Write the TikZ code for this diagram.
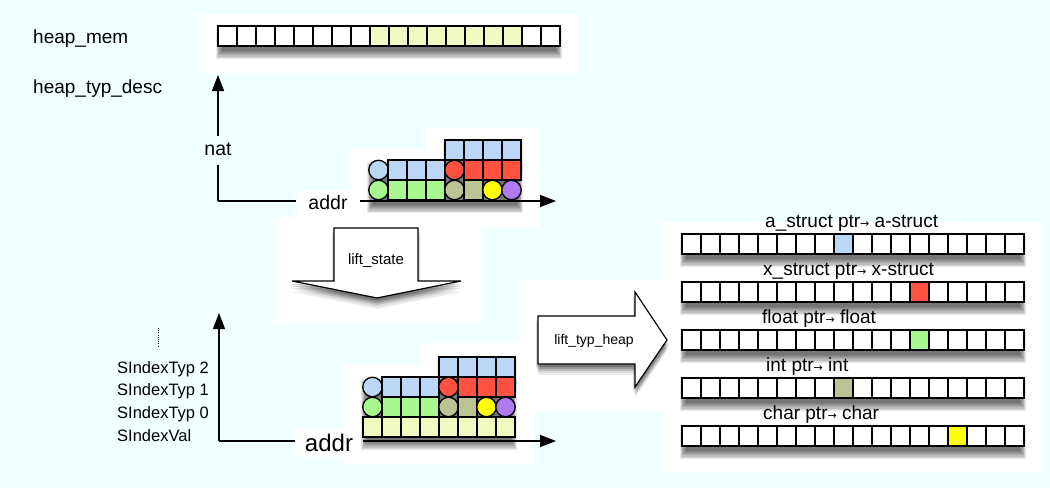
\documentclass[tikz,border=0pt]{standalone}
\usepackage{fontspec}
\setmainfont{Liberation Sans}
\newfontfamily\arrowfont{DejaVu Sans}
\usetikzlibrary{arrows.meta}
\definecolor{bg}{RGB}{240,255,255}
\definecolor{cyel}{RGB}{240,250,192}
\definecolor{cblue}{RGB}{187,215,245}
\definecolor{cred}{RGB}{255,82,64}
\definecolor{cgreen}{RGB}{168,248,144}
\definecolor{colive}{RGB}{188,196,150}
\definecolor{cyellow}{RGB}{255,255,0}
\definecolor{cpurple}{RGB}{176,122,240}
\newcommand\fs[1]{\fontsize{#1}{#1}\selectfont}
\newcommand\sarr{{\arrowfont\fontsize{11}{11}\selectfont →}}
\newcommand\softshadow[4]{%
  \foreach \d in {0,...,7}{%
    \fill[black,opacity=0.09] ({#1-2+\d*0.8},{#2+2+\d*0.8}) rectangle ({#3+2-\d*0.8},{#4+13-\d*1.2});
  }}
\newcommand\cellrow[6]{%
  \foreach \i in {0,...,17}{%
    \ifnum\i<#4 \def\cc{white}\else\ifnum\i>#5 \def\cc{white}\else\def\cc{#6}\fi\fi
    \node[cell,fill=\cc] (#1-\i) at ({#2+19*\i+9.5},{#3+10}) {};
  }}
\newcommand\stackblock[3]{%
  \foreach \c in {4,...,7} \node[cell,fill=cblue] (#1t\c) at ({#2+19*\c+9.5},{#3+10}) {};
  \node[ball,fill=cblue] (#1m0) at ({#2+9.5},{#3+30}) {};
  \foreach \c in {1,2,3} \node[cell,fill=cblue] (#1m\c) at ({#2+19*\c+9.5},{#3+30}) {};
  \node[ball,fill=cred] (#1m4) at ({#2+19*4+9.5},{#3+30}) {};
  \foreach \c in {5,6,7} \node[cell,fill=cred] (#1m\c) at ({#2+19*\c+9.5},{#3+30}) {};
  \node[ball,fill=cgreen] (#1b0) at ({#2+9.5},{#3+50}) {};
  \foreach \c in {1,2,3} \node[cell,fill=cgreen] (#1b\c) at ({#2+19*\c+9.5},{#3+50}) {};
  \node[ball,fill=colive] (#1b4) at ({#2+19*4+9.5},{#3+50}) {};
  \node[cell,fill=colive] (#1b5) at ({#2+19*5+9.5},{#3+50}) {};
  \node[ball,fill=cyellow] (#1b6) at ({#2+19*6+9.5},{#3+50}) {};
  \node[ball,fill=cpurple] (#1b7) at ({#2+19*7+9.5},{#3+50}) {};
}
\tikzset{
  cell/.style={draw, line width=1.3pt, minimum width=19pt, minimum height=20pt, inner sep=0pt, outer sep=0pt},
  ball/.style={draw, line width=1.3pt, circle, minimum size=19.5pt, inner sep=0pt},
  axisline/.style={line width=1.3pt},
  axarrow/.style={line width=1.3pt, -{Triangle[length=16pt,width=12pt]}},
  lbl/.style={inner sep=0pt, text=black},
  bigarrow/.style={draw, line width=1.2pt, fill=white, line join=miter},
}
\begin{document}
\begin{tikzpicture}[x=1pt,y=-1pt]
\useasboundingbox (0,0) rectangle (1050,488);
\fill[bg] (0,0) rectangle (1050,488);
% white panels
\fill[white] (200,14) rectangle (579,73);
\fill[white] (426,128) rectangle (539,149);
\fill[white] (350,149) rectangle (539,227);
\fill[white] (297,190) rectangle (362,217);
\fill[white] (273,217) rectangle (481,325);
\fill[white] (520,280) rectangle (662,413);
\fill[white] (662,222) rectangle (1042,472);
\fill[white] (420,343) rectangle (533,365);
\fill[white] (344,365) rectangle (533,464);
\fill[white] (295,428) rectangle (367,457);
% shadows
\softshadow{218}{26}{560}{46}
\softshadow{445}{140}{521}{160}
\softshadow{369}{160}{521}{200}
\softshadow{439}{357}{515}{377}
\softshadow{363}{377}{515}{437}
\foreach \ry in {234,282,330,378,426} {\softshadow{682}{\ry}{1024}{\ry+20}}
\foreach \dx/\dy in {-2/3,0/3,2/3,-2/5,0/5,2/5,-1/7,1/7,0/9,0/11} {
  \begin{scope}[shift={(\dx,\dy)}]
    \fill[black,opacity=0.07] (334,228) -- (418,228) -- (418,281) -- (461,281) -- (377,298) -- (292,281) -- (334,281) -- cycle;
    \fill[black,opacity=0.07] (538,316) -- (635,316) -- (635,292) -- (667,340) -- (635,387) -- (635,364) -- (538,364) -- cycle;
  \end{scope}
}
% top memory row
\cellrow{hm}{218}{26}{8}{15}{cyel}
% labels left
\node[lbl,font=\fs{19},anchor=base west] (hmem) at (33,43) {heap\_mem};
\node[lbl,font=\fs{19},anchor=base west] (htd) at (33,93) {heap\_typ\_desc};
% axis 1
\coordinate (o1) at (218,201);
\coordinate (t1v) at (218,75);
\coordinate (t1h) at (556,201);
\node[lbl,font=\fs{19.5},inner ysep=7pt,text depth=0.2em] (nat1) at (218,150) {nat};
\node[lbl,font=\fs{19.5},inner xsep=12pt] (addr1) at (328,203) {addr};
\draw[axisline] (o1) -- (o1 |- nat1.south);
\draw[axarrow] (o1 |- nat1.north) -- (t1v);
\draw[axisline] (o1) -- (o1 -| addr1.west);
\draw[axarrow] (o1 -| addr1.east) -- (t1h);
\stackblock{ba}{369}{140}
% lift_state arrow
\draw[bigarrow] (334,228) -- (418,228) -- (418,281) -- (461,281) -- (377,298) -- (292,281) -- (334,281) -- cycle;
\node[lbl,font=\fs{15}] (ls) at (376,261) {lift\_state};
% lift_typ_heap arrow
\draw[bigarrow] (538,316) -- (635,316) -- (635,292) -- (667,340) -- (635,387) -- (635,364) -- (538,364) -- cycle;
\node[lbl,font=\fs{14}] (lth) at (594,341) {lift\_typ\_heap};
% axis 2
\coordinate (o2) at (219,441);
\coordinate (t2v) at (219,313);
\coordinate (t2h) at (556,441);
\node[lbl,font=\fs{24},inner xsep=10pt] (addr2) at (329,443) {addr};
\draw[axarrow] (o2) -- (t2v);
\draw[axisline] (o2) -- (o2 -| addr2.west);
\draw[axarrow] (o2 -| addr2.east) -- (t2h);
\stackblock{bb}{363}{357}
\foreach \c in {0,...,7} \node[cell,fill=cyel] (bby\c) at ({363+19*\c+9.5},427) {};
% left labels of lower part
\draw[line width=0.8pt, dash pattern=on 0.8pt off 1.4pt] (158,328) -- (158,346);
\node[lbl,font=\fs{16.5},anchor=base west] (s2) at (117,373) {SIndexTyp 2};
\node[lbl,font=\fs{16.5},anchor=base west] (s1) at (117,395) {SIndexTyp 1};
\node[lbl,font=\fs{16.5},anchor=base west] (s0) at (117,418) {SIndexTyp 0};
\node[lbl,font=\fs{16.5},anchor=base west] (sv) at (117,441) {SIndexVal};
% right rows
\cellrow{ra}{682}{234}{8}{8}{cblue}
\cellrow{rx}{682}{282}{12}{12}{cred}
\cellrow{rf}{682}{330}{12}{12}{cgreen}
\cellrow{ri}{682}{378}{8}{8}{colive}
\cellrow{rc}{682}{426}{14}{14}{cyellow}
\node[lbl,font=\fs{19},anchor=base west] (la) at (765,227) {a\_struct ptr\sarr\ a-struct};
\node[lbl,font=\fs{19},anchor=base west] (lx) at (763,275) {x\_struct ptr\sarr\ x-struct};
\node[lbl,font=\fs{19},anchor=base west] (lf) at (762,323) {float ptr\sarr\ float};
\node[lbl,font=\fs{19},anchor=base west] (li) at (766,371) {int ptr\sarr\ int};
\node[lbl,font=\fs{19},anchor=base west] (lc) at (763,419) {char ptr\sarr\ char};
\end{tikzpicture}
\end{document}
